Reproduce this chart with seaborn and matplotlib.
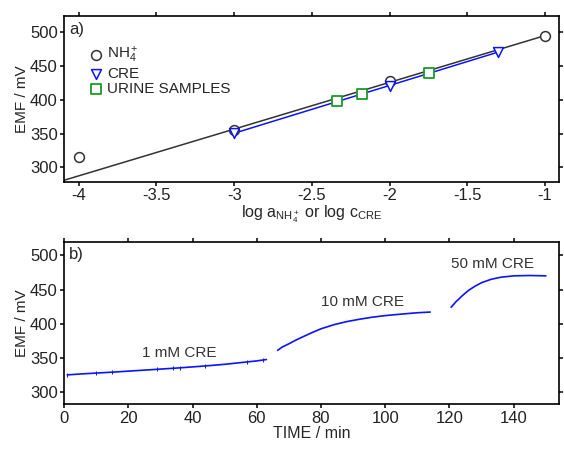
import numpy as np
import pandas as pd
import seaborn as sns
import matplotlib.pyplot as plt

# panel a) calibration data
nh4_log = [-4.0, -3.0, -2.0, -1.0]
nh4_emf = [316, 356, 427, 494]
cre_log = [-3.0, -2.0, -1.301]
cre_emf = [351, 420, 471]
urine_log = [-2.336, -2.177, -1.748]
urine_emf = [398.5, 409, 439]

# panel b) time trace, three concentration steps
t1 = [1, 5, 10, 15, 20, 25, 30, 35, 40, 45, 50, 55, 60, 63]
e1 = [325, 326.3, 327.7, 329, 330.5, 332, 333.5, 335, 336.7, 338.5, 340.5, 343, 345.5, 347.5]
t2 = [66.5, 68, 70, 72, 74, 77, 80, 84, 88, 92, 96, 100, 105, 110, 114]
e2 = [361, 366, 370.5, 375.5, 380, 386.5, 392.5, 398.5, 403, 406.5, 409.5, 411.8, 414, 416, 417]
t3 = [120.5, 122, 124, 126, 128, 130, 133, 136, 140, 145, 150]
e3 = [424, 432, 441, 449, 455, 460, 465, 468, 470, 470.5, 470]
tick_t = [1, 10, 15, 29, 34, 36, 44, 57, 62]
step_labels = ["1 mM CRE", "10 mM CRE", "50 mM CRE"]
label_pos = [(36, 357), (93, 432), (133.5, 487)]

sns.set_style("ticks")
plt.rcParams["font.family"] = ["Liberation Sans", "DejaVu Sans"]
plt.rcParams["mathtext.fontset"] = "custom"
plt.rcParams["mathtext.rm"] = "Liberation Sans"
plt.rcParams["mathtext.it"] = "Liberation Sans"
plt.rcParams["font.size"] = 11

dark = "#333333"
blue = "#0a14ff"
green = "#1a9a2a"

fig = plt.figure(figsize=(5.64, 4.49), dpi=100)
ax1 = fig.add_axes([0.1135, 0.5953, 0.8771, 0.3697])
ax2 = fig.add_axes([0.1135, 0.0996, 0.8771, 0.3621])

# --- panel a ---
# linear fits drawn under the markers
p_nh4 = np.polyfit(nh4_log[1:], nh4_emf[1:], 1)
xfit = np.array([-4.1, nh4_log[-1]])
sns.lineplot(x=xfit, y=np.polyval(p_nh4, xfit), ax=ax1, color=dark, lw=1.1)
p_cre = np.polyfit(cre_log, cre_emf, 1)
xfit2 = np.array([cre_log[0], cre_log[-1]])
sns.lineplot(x=xfit2, y=np.polyval(p_cre, xfit2), ax=ax1, color=blue, lw=1.1)

sns.scatterplot(x=nh4_log, y=nh4_emf, ax=ax1, marker="o", s=50, facecolor="white",
                edgecolor=dark, linewidth=1.1, label="NH$_4^+$", zorder=3)
sns.scatterplot(x=cre_log, y=cre_emf, ax=ax1, marker="v", s=50, facecolor="white",
                edgecolor=blue, linewidth=1.1, label="CRE", zorder=3)
sns.scatterplot(x=urine_log, y=urine_emf, ax=ax1, marker="s", s=50, facecolor="white",
                edgecolor=green, linewidth=1.3, label="URINE SAMPLES", zorder=3)

ax1.set_xlim(-4.095, -0.912)
ax1.set_ylim(279, 524)
ax1.set_xticks([-4, -3.5, -3, -2.5, -2, -1.5, -1])
ax1.set_xticklabels(["-4", "-3.5", "-3", "-2.5", "-2", "-1.5", "-1"])
ax1.set_yticks([300, 350, 400, 450, 500])
ax1.set_xlabel(r"log a$_{\mathrm{NH_4^+}}$ or log c$_{\mathrm{CRE}}$", labelpad=0, fontsize=11.5)
ax1.set_ylabel("EMF / mV", labelpad=1, fontsize=11)
ax1.text(0.01, 0.965, "a)", transform=ax1.transAxes, ha="left", va="top", fontsize=12)
ax1.legend(loc="upper left", bbox_to_anchor=(0.035, 0.86), frameon=False, fontsize=11,
           handletextpad=0.2, labelspacing=0.1, borderaxespad=0, handlelength=1.1)

# --- panel b ---
for tt, ee in [(t1, e1), (t2, e2), (t3, e3)]:
    sns.lineplot(x=tt, y=ee, ax=ax2, color=blue, lw=1.2)
# small point ticks along the first step
sns.scatterplot(x=tick_t, y=np.interp(tick_t, t1, e1), ax=ax2, marker="|", s=8,
                color=blue, linewidth=0.7, zorder=3)
for txt, (xx, yy) in zip(step_labels, label_pos):
    ax2.text(xx, yy, txt, ha="center", va="center", color=dark, fontsize=11)

ax2.set_xlim(0, 154)
ax2.set_ylim(282, 520)
ax2.set_xticks([0, 20, 40, 60, 80, 100, 120, 140])
ax2.set_yticks([300, 350, 400, 450, 500])
ax2.set_xlabel("TIME / min", labelpad=0, fontsize=11.5)
ax2.set_ylabel("EMF / mV", labelpad=1, fontsize=11)
ax2.text(0.01, 0.965, "b)", transform=ax2.transAxes, ha="left", va="top", fontsize=12)

for ax in (ax1, ax2):
    ax.tick_params(direction="out", length=3, width=1.1, top=True, right=True,
                   labeltop=False, labelright=False, colors="black", labelcolor="#222222",
                   labelsize=12, pad=1.5)
    for sp in ax.spines.values():
        sp.set_linewidth(1.2)
        sp.set_color("black")

fig.savefig("out.png", dpi=100)
